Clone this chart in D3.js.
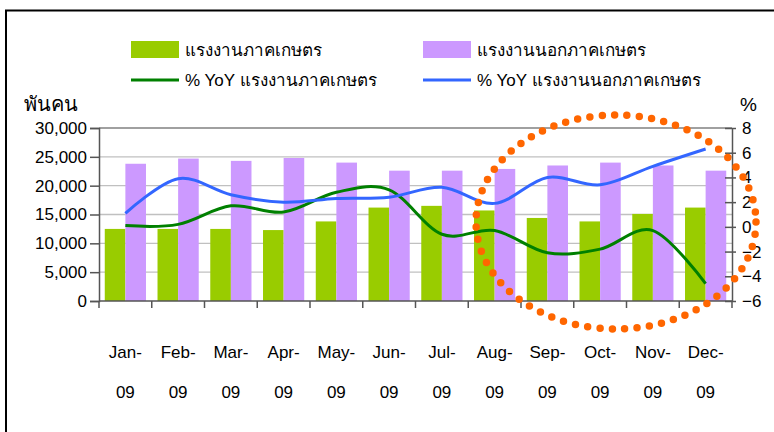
<!DOCTYPE html>
<html>
<head>
<meta charset="utf-8">
<script src="https://cdn.jsdelivr.net/npm/d3@7"></script>
<style>
  body { margin: 0; background: #fff; }
  svg { display: block; font-family: "Liberation Sans", Arial, sans-serif; }
</style>
</head>
<body>
<div id="chart"></div>
<script>
'use strict';

// data
var months = ["Jan-09", "Feb-09", "Mar-09", "Apr-09", "May-09", "Jun-09",
              "Jul-09", "Aug-09", "Sep-09", "Oct-09", "Nov-09", "Dec-09"];
var agriWorkers    = [12500, 12500, 12500, 12300, 13800, 16200, 16500, 15700, 14400, 13800, 15100, 16200];
var nonAgriWorkers = [23800, 24700, 24300, 24800, 24000, 22600, 22600, 22900, 23500, 24000, 23500, 22600];
var agriYoY    = [0.1, 0.2, 1.7, 1.2, 2.8, 3.0, -0.6, -0.3, -2.1, -1.8, -0.3, -4.6];
var nonAgriYoY = [1.1, 3.9, 2.6, 2.0, 2.3, 2.4, 3.2, 1.9, 4.0, 3.4, 4.9, 6.3];
var leftTicks  = [0, 5000, 10000, 15000, 20000, 25000, 30000];
var rightTicks = [-6, -4, -2, 0, 2, 4, 6, 8];
var seriesNames = ["แรงงานภาคเกษตร", "แรงงานนอกภาคเกษตร",
                   "% YoY แรงงานภาคเกษตร", "% YoY แรงงานนอกภาคเกษตร"];

var width = 774, height = 432;
var plot = {left: 99, right: 732, top: 128, bottom: 301};

var green = "#99cc00", purple = "#cc99ff", darkGreen = "#008000", blue = "#3366ff";

var svg = d3.select("#chart").append("svg")
    .attr("width", width)
    .attr("height", height);

// outer frame (only top and left edges show)
svg.append("rect")
    .attr("x", 6).attr("y", 10.5)
    .attr("width", 900).attr("height", 600)
    .attr("fill", "none")
    .attr("stroke", "#000")
    .attr("stroke-width", 2);

// scales
var x = d3.scaleBand().domain(months).range([plot.left, plot.right]);
var xSub = d3.scaleBand().domain(["agri", "nonagri"])
    .range([0, x.bandwidth()]).paddingOuter(0.28);
var yLeft = d3.scaleLinear().domain([0, 30000]).range([plot.bottom, plot.top]);
var yRight = d3.scaleLinear().domain([-6, 8]).range([plot.bottom, plot.top]);

// gridlines
svg.append("g")
    .selectAll("line")
    .data(leftTicks.filter(function(d) { return d > 0; }))
    .enter().append("line")
    .attr("x1", plot.left).attr("x2", plot.right)
    .attr("y1", function(d) { return yLeft(d); })
    .attr("y2", function(d) { return yLeft(d); })
    .attr("stroke", function(d) { return d === 30000 ? "#808080" : "#c0c0c0"; })
    .attr("stroke-width", 1.3);

// bars
var groups = svg.append("g")
    .selectAll("g")
    .data(months)
    .enter().append("g")
    .attr("transform", function(d) { return "translate(" + x(d) + ",0)"; });

groups.append("rect")
    .attr("x", xSub("agri"))
    .attr("width", xSub.bandwidth())
    .attr("y", function(d, i) { return yLeft(agriWorkers[i]); })
    .attr("height", function(d, i) { return yLeft(0) - yLeft(agriWorkers[i]); })
    .attr("fill", green);

groups.append("rect")
    .attr("x", xSub("nonagri"))
    .attr("width", xSub.bandwidth())
    .attr("y", function(d, i) { return yLeft(nonAgriWorkers[i]); })
    .attr("height", function(d, i) { return yLeft(0) - yLeft(nonAgriWorkers[i]); })
    .attr("fill", purple);

// smoothed lines
var line = d3.line()
    .x(function(d, i) { return x(months[i]) + x.bandwidth() / 2; })
    .y(function(d) { return yRight(d); })
    .curve(d3.curveCardinal.tension(0));

svg.append("path")
    .datum(agriYoY)
    .attr("d", line)
    .attr("fill", "none")
    .attr("stroke", darkGreen)
    .attr("stroke-width", 3);

svg.append("path")
    .datum(nonAgriYoY)
    .attr("d", line)
    .attr("fill", "none")
    .attr("stroke", blue)
    .attr("stroke-width", 3);

// left axis
var leftAxis = svg.append("g")
    .attr("transform", "translate(" + plot.left + ",0)")
    .call(d3.axisLeft(yLeft).tickValues(leftTicks)
        .tickFormat(d3.format(",")).tickSize(9).tickPadding(3));
leftAxis.select(".domain").attr("stroke", "#555").attr("stroke-width", 1.5);
leftAxis.selectAll(".tick line").attr("stroke", "#555").attr("stroke-width", 1.5);
leftAxis.selectAll("text").attr("font-size", 17).attr("fill", "#000")
    .attr("font-family", "'Liberation Sans', Arial, sans-serif");

// right axis (ticks cross the line)
var rightAxis = svg.append("g")
    .attr("transform", "translate(" + plot.right + ",0)")
    .call(d3.axisRight(yRight).tickValues(rightTicks)
        .tickSizeInner(4).tickSizeOuter(0).tickPadding(6));
rightAxis.select(".domain").attr("stroke", "#555").attr("stroke-width", 1.5);
rightAxis.selectAll(".tick line").attr("x1", -7).attr("stroke", "#555").attr("stroke-width", 1.5);
rightAxis.selectAll("text").attr("font-size", 17).attr("fill", "#000")
    .attr("font-family", "'Liberation Sans', Arial, sans-serif");

// bottom axis, ticks at category boundaries
var bottom = svg.append("g");
bottom.append("line")
    .attr("x1", plot.left).attr("x2", plot.right)
    .attr("y1", plot.bottom).attr("y2", plot.bottom)
    .attr("stroke", "#555").attr("stroke-width", 1.5);
bottom.selectAll(".bt")
    .data(months.concat(["end"]))
    .enter().append("line")
    .attr("class", "bt")
    .attr("x1", function(d) { return d === "end" ? plot.right : x(d); })
    .attr("x2", function(d) { return d === "end" ? plot.right : x(d); })
    .attr("y1", plot.bottom).attr("y2", plot.bottom + 7)
    .attr("stroke", "#555").attr("stroke-width", 1.5);

var labels = bottom.selectAll(".xl")
    .data(months)
    .enter().append("text")
    .attr("class", "xl")
    .attr("text-anchor", "middle")
    .attr("font-size", 17);
labels.append("tspan")
    .attr("x", function(d) { return x(d) + x.bandwidth() / 2; })
    .attr("y", 358)
    .text(function(d) { return d.split("-")[0] + "-"; });
labels.append("tspan")
    .attr("x", function(d) { return x(d) + x.bandwidth() / 2; })
    .attr("y", 398)
    .text(function(d) { return d.split("-")[1]; });

// axis titles
svg.append("text").attr("x", 24).attr("y", 111).attr("font-size", 20).text("พันคน");
svg.append("text").attr("x", 740).attr("y", 111).attr("font-size", 19).text("%");

// legend
var legend = svg.append("g");
var legendPos = [[131, 49.5], [423, 49.5], [131, 80], [423, 80]];
var legendColors = [green, purple, darkGreen, blue];
legendPos.forEach(function(p, i) {
    if (i < 2) {
        legend.append("rect")
            .attr("x", p[0]).attr("y", p[1] - 8.5)
            .attr("width", 48).attr("height", 17)
            .attr("fill", legendColors[i]);
    } else {
        legend.append("line")
            .attr("x1", p[0]).attr("x2", p[0] + 48)
            .attr("y1", p[1]).attr("y2", p[1])
            .attr("stroke", legendColors[i]).attr("stroke-width", 3);
    }
    legend.append("text")
        .attr("x", p[0] + 54).attr("y", p[1] + 6)
        .attr("font-size", 17)
        .text(seriesNames[i]);
});

// orange dotted ellipse highlighting Aug-Dec
svg.append("ellipse")
    .attr("cx", 616).attr("cy", 222)
    .attr("rx", 140).attr("ry", 107)
    .attr("fill", "none")
    .attr("stroke", "#ff6600")
    .attr("stroke-width", 7.5)
    .attr("stroke-linecap", "round")
    .attr("stroke-dasharray", "0 12.4");
</script>
</body>
</html>
